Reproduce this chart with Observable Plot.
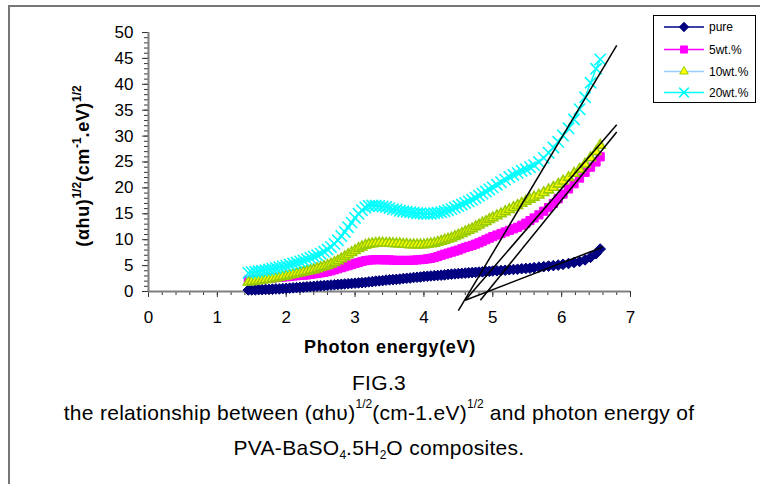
<!DOCTYPE html>
<html>
<head>
<meta charset="utf-8">
<script src="https://cdn.jsdelivr.net/npm/d3@7"></script>
<script src="https://cdn.jsdelivr.net/npm/@observablehq/plot@0.6"></script>
<style>
  html, body { margin: 0; padding: 0; background: #fff; overflow: hidden; }
  #wrap { position: relative; width: 760px; height: 484px; overflow: hidden; background: #fff;
          font-family: "Liberation Sans", Arial, sans-serif; color: #000; }
  #border { position: absolute; left: 8px; top: 5px; width: 800px; height: 520px;
            border-top: 2px solid #767676; border-left: 2px solid #767676; }
  #chart { position: absolute; left: 0; top: 0; }
  #chart svg [aria-label$="tick label"] text, #chart svg [aria-label$="tick label"] { font-size: 17px; }
  #ytitle { position: absolute; left: 83px; top: 166px; transform: translate(-50%, -50%) rotate(-90deg);
            white-space: nowrap; font-weight: bold; font-size: 18px; line-height: 20px; letter-spacing: 0.6px; }
  #ytitle sup { font-size: 12px; vertical-align: 8px; line-height: 0; letter-spacing: 0; }
  #xtitle { position: absolute; left: 390px; top: 338px; transform: translateX(-50%);
            white-space: nowrap; font-weight: bold; font-size: 18px; line-height: 18px; letter-spacing: 0.7px; }
  .cap { position: absolute; left: 0; width: 758px; text-align: center; white-space: nowrap;
         font-size: 21px; line-height: 24px; letter-spacing: 0.3px; }
  .cap sup { font-size: 12px; vertical-align: 12px; line-height: 0; letter-spacing: 0; }
  .cap sub { font-size: 12px; vertical-align: -4px; line-height: 0; letter-spacing: 0; }
  #legend { position: absolute; left: 653px; top: 15px; width: 101px; height: 86px;
            border: 1px solid #000; background: #fff; }
</style>
</head>
<body>
<div id="wrap">
  <div id="border"></div>
  <div id="chart"></div>
  <div id="ytitle">(αhu)<sup>1/2</sup>(cm<sup>-1</sup>.eV)<sup>1/2</sup></div>
  <div id="xtitle">Photon energy(eV)</div>
  <div id="legend"></div>
  <div class="cap" style="top:371px">FIG.3</div>
  <div class="cap" style="top:401px">the relationship between (αhυ)<sup>1/2</sup>(cm-1.eV)<sup>1/2</sup> and photon energy of</div>
  <div class="cap" style="top:436px">PVA-BaSO<sub>4</sub>.5H<sub>2</sub>O composites.</div>
</div>
<script>
// Photon energy (eV), shared by all series
const energy = [
  1.45,1.50,1.55,1.60,1.65,1.70,1.75,1.80,1.85,1.90,
  1.95,2.00,2.05,2.10,2.15,2.20,2.25,2.30,2.35,2.40,
  2.45,2.50,2.55,2.60,2.65,2.70,2.75,2.80,2.85,2.90,
  2.95,3.00,3.05,3.10,3.15,3.20,3.25,3.30,3.35,3.40,
  3.45,3.50,3.55,3.60,3.65,3.70,3.75,3.80,3.85,3.90,
  3.95,4.00,4.05,4.10,4.15,4.20,4.25,4.30,4.35,4.40,
  4.45,4.50,4.55,4.60,4.65,4.70,4.75,4.80,4.85,4.90,
  4.95,5.00,5.06,5.12,5.18,5.24,5.30,5.36,5.42,5.48,
  5.54,5.60,5.67,5.74,5.81,5.88,5.95,6.02,6.10,6.18,
  6.26,6.34,6.42,6.50,6.56
];
const pure = [
  0.30,0.30,0.30,0.35,0.35,0.40,0.40,0.45,0.50,0.50,
  0.55,0.60,0.65,0.70,0.75,0.80,0.85,0.90,0.95,1.00,
  1.05,1.10,1.15,1.20,1.25,1.30,1.35,1.40,1.45,1.50,
  1.55,1.60,1.65,1.70,1.75,1.85,1.90,2.00,2.05,2.10,
  2.20,2.25,2.30,2.35,2.40,2.50,2.55,2.60,2.70,2.75,
  2.80,2.90,2.95,3.00,3.05,3.10,3.15,3.20,3.30,3.35,
  3.40,3.45,3.50,3.55,3.60,3.65,3.70,3.75,3.80,3.85,
  3.90,3.95,4.00,4.05,4.10,4.20,4.25,4.30,4.40,4.45,
  4.50,4.60,4.70,4.80,4.90,5.00,5.10,5.25,5.40,5.60,
  5.80,6.10,6.60,7.30,8.20
];
const wt5 = [
  2.20,2.20,2.30,2.30,2.40,2.50,2.55,2.60,2.70,2.75,
  2.80,2.85,2.90,3.00,3.05,3.10,3.15,3.20,3.30,3.40,
  3.50,3.60,3.70,3.85,4.00,4.20,4.40,4.60,4.80,5.00,
  5.20,5.40,5.60,5.80,5.95,6.05,6.10,6.15,6.15,6.10,
  6.10,6.10,6.05,6.00,6.00,6.00,6.00,6.00,6.05,6.10,
  6.15,6.20,6.30,6.40,6.55,6.75,7.00,7.20,7.40,7.60,
  7.80,8.00,8.25,8.50,8.70,8.90,9.15,9.40,9.70,10.00,
  10.30,10.60,10.90,11.20,11.50,11.80,12.10,12.40,12.80,13.20,
  13.70,14.20,14.80,15.50,16.20,17.00,17.90,18.80,19.80,20.80,
  21.90,23.00,24.00,25.00,26.00
];
const wt10 = [
  1.80,1.90,2.00,2.10,2.20,2.30,2.40,2.50,2.60,2.75,
  2.90,3.00,3.15,3.30,3.45,3.60,3.75,3.90,4.05,4.20,
  4.40,4.60,4.80,5.00,5.30,5.60,5.90,6.30,6.70,7.10,
  7.50,7.90,8.30,8.60,8.90,9.10,9.20,9.30,9.35,9.35,
  9.30,9.30,9.25,9.20,9.20,9.10,9.10,9.00,9.00,9.00,
  9.00,9.00,9.10,9.20,9.30,9.50,9.70,9.90,10.10,10.30,
  10.60,10.90,11.20,11.50,11.80,12.10,12.50,12.80,13.20,13.50,
  13.90,14.20,14.60,15.00,15.40,15.80,16.20,16.60,17.00,17.40,
  17.80,18.20,18.60,19.10,19.60,20.10,20.70,21.30,22.00,22.80,
  23.60,24.60,25.80,27.00,28.20
];
const wt20 = [
  3.60,3.70,3.80,3.90,4.00,4.10,4.25,4.40,4.55,4.70,
  4.85,5.00,5.20,5.40,5.60,5.80,6.00,6.25,6.50,6.75,
  7.00,7.30,7.70,8.10,8.60,9.20,9.90,10.70,11.50,12.40,
  13.30,14.20,15.00,15.70,16.20,16.50,16.60,16.60,16.50,16.40,
  16.30,16.10,15.90,15.80,15.60,15.50,15.40,15.30,15.20,15.10,
  15.10,15.00,15.00,15.00,15.10,15.20,15.30,15.50,15.70,15.90,
  16.20,16.50,16.80,17.10,17.40,17.70,18.10,18.50,18.90,19.30,
  19.70,20.10,20.60,21.10,21.60,22.10,22.50,22.90,23.30,23.60,
  24.00,24.40,25.00,25.80,26.80,27.80,28.90,30.10,31.50,33.20,
  35.20,37.50,40.30,43.00,44.80
];
const seriesNames = ["pure", "5wt.%", "10wt.%", "20wt.%"];
const seriesValues = [pure, wt5, wt10, wt20];
const lineColors = ["#000080", "#ff00ff", "#99ccff", "#00ffff"];
const markerFill = ["#000080", "#ff00ff", "#ffff00", "none"];
const markerStroke = ["#000080", "#ff00ff", "#99cc00", "#00ffff"];
const markerSymbol = ["diamond2", "square", "triangle", "times"];
const markerR = [4.8, 4.6, 3.7, 5.2];
const markerSW = [1, 1, 1.6, 1.6];

// Tangent (extrapolation) lines: endpoints in data units
const tanX1 = [4.50, 4.60, 4.82, 4.60];
const tanY1 = [-3.7, -1.7, -1.7, -1.7];
const tanX2 = [6.80, 6.80, 6.80, 6.60];
const tanY2 = [47.5, 32.2, 30.8, 8.6];

const xTicks = [0, 1, 2, 3, 4, 5, 6, 7];
const yTicks = [0, 5, 10, 15, 20, 25, 30, 35, 40, 45, 50];
const xMinor = d3.range(0, 7.001, 0.2);
const yMinor = d3.range(0, 50.001, 1);

const rows = seriesValues.map((vals, i) =>
  vals.map((v, j) => ({ E: energy[j], v, s: seriesNames[i] })));
const tangents = tanX1.map((x, i) => ({ x1: x, y1: tanY1[i], x2: tanX2[i], y2: tanY2[i] }));

const seriesMarks = rows.flatMap((data, i) => [
  Plot.line(data, { x: "E", y: "v", stroke: lineColors[i], strokeWidth: 1.5 }),
  Plot.dot(data, { x: "E", y: "v", symbol: markerSymbol[i], r: markerR[i],
    fill: markerFill[i], stroke: markerStroke[i], strokeWidth: markerSW[i] })
]);

const chart = Plot.plot({
  width: 760, height: 365,
  marginLeft: 148, marginRight: 130, marginTop: 32, marginBottom: 74,
  x: { domain: [0, 7], label: null },
  y: { domain: [0, 50], label: null },
  style: { fontFamily: "'Liberation Sans', Arial, sans-serif", fontSize: "17px",
           color: "#000", background: "transparent", overflow: "visible" },
  marks: [
    Plot.axisX({ ticks: xMinor, tickSize: 4, tickFormat: () => "", label: null, stroke: "#333" }),
    Plot.axisX({ ticks: xTicks, tickSize: 6, tickPadding: 13, tickFormat: d => String(d), label: null, stroke: "#333", fontSize: 17 }),
    Plot.axisY({ ticks: yMinor, tickSize: 4, tickFormat: () => "", label: null, stroke: "#333" }),
    Plot.axisY({ ticks: yTicks, tickSize: 6, tickPadding: 9, tickFormat: d => String(d), label: null, stroke: "#333", fontSize: 17 }),
    Plot.ruleY([0], { stroke: "#808080", strokeWidth: 2 }),
    Plot.ruleX([0], { stroke: "#808080", strokeWidth: 2 }),
    ...seriesMarks,
    Plot.link(tangents, { x1: "x1", y1: "y1", x2: "x2", y2: "y2", stroke: "#000", strokeWidth: 1.5 })
  ]
});
document.getElementById("chart").appendChild(chart);

// Legend
const symMap = { diamond2: d3.symbolDiamond2, square: d3.symbolSquare, triangle: d3.symbolTriangle, times: d3.symbolTimes };
const legendR = [4.2, 4.0, 3.2, 4.5];
const lg = d3.select("#legend").append("svg").attr("width", 101).attr("height", 86)
  .style("font-family", "'Liberation Sans', Arial, sans-serif").style("font-size", "12px");
const rowY = [11, 33.5, 55.5, 76.5];
seriesNames.forEach((name, i) => {
  const g = lg.append("g").attr("transform", `translate(0,${rowY[i]})`);
  g.append("line").attr("x1", 10).attr("x2", 50).attr("y1", 0).attr("y2", 0)
    .attr("stroke", lineColors[i]).attr("stroke-width", 1.5);
  const r = legendR[i];
  g.append("path").attr("transform", "translate(30,0)")
    .attr("d", d3.symbol(symMap[markerSymbol[i]], Math.PI * r * r)())
    .attr("fill", markerFill[i]).attr("stroke", markerStroke[i])
    .attr("stroke-width", i === 3 ? 1.5 : 1);
  g.append("text").attr("x", 55).attr("y", 0).attr("dy", "0.35em").text(name);
});
</script>
</body>
</html>
